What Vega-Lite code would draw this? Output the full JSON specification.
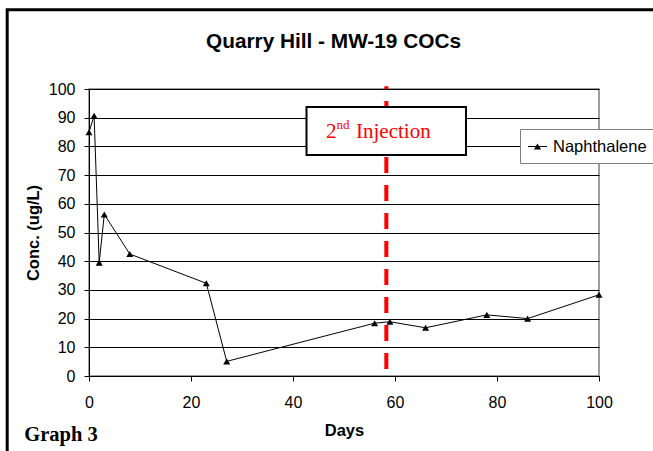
{
  "$schema": "https://vega.github.io/schema/vega-lite/v6.json",
  "width": 510,
  "height": 287,
  "autosize": {"type": "none"},
  "padding": {"left": 89, "top": 89, "right": 54, "bottom": 75},
  "background": "white",
  "config": {
    "view": {"stroke": "#808080", "strokeWidth": 1.5},
    "font": "Liberation Sans"
  },
  "datasets": {
    "conc": [
      {"x": 0, "y": 84.9, "series": "Naphthalene"},
      {"x": 1, "y": 90.7, "series": "Naphthalene"},
      {"x": 2, "y": 39.5, "series": "Naphthalene"},
      {"x": 3, "y": 56.3, "series": "Naphthalene"},
      {"x": 8, "y": 42.5, "series": "Naphthalene"},
      {"x": 23, "y": 32.3, "series": "Naphthalene"},
      {"x": 27, "y": 5.1, "series": "Naphthalene"},
      {"x": 56, "y": 18.4, "series": "Naphthalene"},
      {"x": 59, "y": 18.9, "series": "Naphthalene"},
      {"x": 66, "y": 16.8, "series": "Naphthalene"},
      {"x": 78, "y": 21.3, "series": "Naphthalene"},
      {"x": 86, "y": 20.0, "series": "Naphthalene"},
      {"x": 100, "y": 28.3, "series": "Naphthalene"}
    ],
    "injection": [{"x": 58.3, "y": 2.44, "y2": 101}],
    "box": [{"x": 42.65, "x2": 73.92, "y": 77.0, "y2": 93.73}],
    "frame": [{"x": -16.04, "x2": 130, "y": -40, "y2": 127.6}],
    "note": [{"x": 46.47, "y": 83.03, "num": "2", "sup": "nd", "word": "Injection"}],
    "titles": [{"x": 47.94, "y": 114.18, "label": "Quarry Hill - MW-19 COCs"}],
    "graph": [{"x": -12.7, "y": -22.82, "label": "Graph 3"}]
  },
  "encoding": {
    "x": {
      "field": "x", "type": "quantitative",
      "scale": {"domain": [0, 100], "nice": false, "zero": false},
      "axis": {
        "title": "Days", "values": [0, 20, 40, 60, 80, 100], "grid": false,
        "domainColor": "black", "tickColor": "black", "tickSize": 5,
        "labelFont": "Liberation Sans", "labelFontSize": 16, "labelColor": "black",
        "labelPadding": 13, "labelFlush": false, "labelOverlap": false,
        "titleFont": "Liberation Sans", "titleFontSize": 16.5, "titleFontWeight": "bold",
        "titleColor": "black", "titlePadding": 12
      }
    },
    "y": {
      "field": "y", "type": "quantitative",
      "scale": {"domain": [0, 100], "nice": false, "zero": false},
      "axis": {
        "title": "Conc. (ug/L)", "values": [0, 10, 20, 30, 40, 50, 60, 70, 80, 90, 100],
        "grid": true, "gridColor": "black", "gridWidth": 1,
        "domainColor": "black", "tickColor": "black", "tickSize": 5,
        "labelFont": "Liberation Sans", "labelFontSize": 16, "labelColor": "black",
        "labelPadding": 9, "labelOverlap": false,
        "titleFont": "Liberation Sans", "titleFontSize": 16.5, "titleFontWeight": "bold",
        "titleColor": "black", "titlePadding": 7
      }
    }
  },
  "layer": [
    {
      "data": {"name": "frame"},
      "mark": {"type": "rect", "filled": false, "stroke": "black", "strokeWidth": 3},
      "encoding": {"x2": {"field": "x2"}, "y2": {"field": "y2"}}
    },
    {
      "data": {"name": "conc"},
      "mark": {"type": "line", "color": "black", "strokeWidth": 1}
    },
    {
      "data": {"name": "injection"},
      "mark": {"type": "rule", "color": "#FF0000", "strokeWidth": 4, "strokeDash": [16, 12]},
      "encoding": {"y2": {"field": "y2"}}
    },
    {
      "data": {"name": "box"},
      "mark": {"type": "rect", "fill": "white", "stroke": "black", "strokeWidth": 2},
      "encoding": {"x2": {"field": "x2"}, "y2": {"field": "y2"}}
    },
    {
      "data": {"name": "note"},
      "mark": {"type": "text", "font": "Liberation Serif", "fontSize": 21, "color": "#FF0000", "align": "left", "baseline": "alphabetic"},
      "encoding": {"text": {"field": "num"}}
    },
    {
      "data": {"name": "note"},
      "mark": {"type": "text", "font": "Liberation Serif", "fontSize": 13, "color": "#FF0000", "align": "left", "baseline": "alphabetic", "dx": 10.5, "dy": -8.5},
      "encoding": {"text": {"field": "sup"}}
    },
    {
      "data": {"name": "note"},
      "mark": {"type": "text", "font": "Liberation Serif", "fontSize": 21, "color": "#FF0000", "align": "left", "baseline": "alphabetic", "dx": 30},
      "encoding": {"text": {"field": "word"}}
    },
    {
      "data": {"name": "conc"},
      "mark": {"type": "point", "shape": "triangle-up", "filled": true, "size": 49, "opacity": 1},
      "encoding": {
        "color": {
          "field": "series", "type": "nominal",
          "scale": {"range": ["black"]},
          "legend": {
            "title": null, "orient": "none", "legendX": 431, "legendY": 40,
            "padding": 8, "fillColor": "white", "strokeColor": "#808080",
            "symbolType": "M-1,-0.055H1V0.055H-1ZM-0.38,0.32L0,-0.32L0.38,0.32Z",
            "symbolSize": 361, "symbolFillColor": "black", "symbolStrokeWidth": 0,
            "symbolOpacity": 1,
            "labelFont": "Liberation Sans", "labelFontSize": 16.5, "labelColor": "black",
            "labelOffset": 6, "labelLimit": 0
          }
        }
      }
    },
    {
      "data": {"name": "titles"},
      "mark": {"type": "text", "font": "Liberation Sans", "fontSize": 20.8, "fontWeight": "bold", "color": "black", "align": "center", "baseline": "alphabetic"},
      "encoding": {"text": {"field": "label"}}
    },
    {
      "data": {"name": "graph"},
      "mark": {"type": "text", "font": "Liberation Serif", "fontSize": 20.5, "fontWeight": "bold", "color": "black", "align": "left", "baseline": "alphabetic"},
      "encoding": {"text": {"field": "label"}}
    }
  ]
}
